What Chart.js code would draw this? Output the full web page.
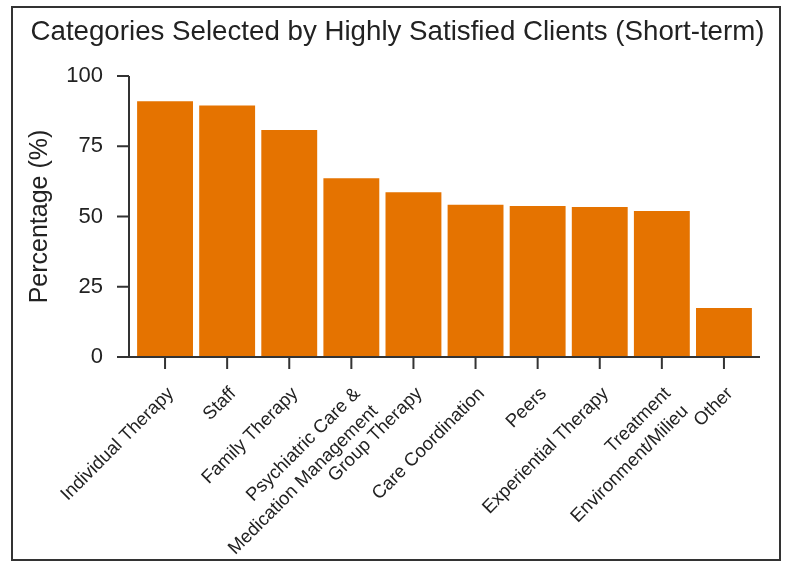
<!DOCTYPE html>
<html>
<head>
<meta charset="utf-8">
<script src="https://cdn.jsdelivr.net/npm/chart.js@4"></script>
<style>
  html, body { margin: 0; padding: 0; background: #fff; overflow: hidden; }
  #wrap { position: relative; width: 785px; height: 561px; }
</style>
</head>
<body>
<div id="wrap"><canvas id="chart"></canvas></div>
<script>
// DATA

const categories = [
    'Individual Therapy',
    'Staff',
    'Family Therapy',
    ['Psychiatric Care &', 'Medication Management'],
    'Group Therapy',
    'Care Coordination',
    'Peers',
    'Experiential Therapy',
    ['Treatment', 'Environment/Milieu'],
    'Other'
];
const percentages = [91.0, 89.5, 80.8, 63.6, 58.6, 54.2, 53.7, 53.4, 52.0, 17.4];
const yTicks = [0, 25, 50, 75, 100];

const FONT = "'Liberation Sans', Arial, Helvetica, sans-serif";
const INK = '#222';
const BAR = '#E57300';

// R-style axes: detached y axis, outward ticks, plus outer frame
const axesPlugin = {
    id: 'rAxes',
    beforeDraw(chart) {
        const ctx = chart.ctx;
        ctx.save();
        ctx.strokeStyle = '#333';
        ctx.lineWidth = 2;
        ctx.strokeRect(12, 7, chart.width - 17, chart.height - 8);
        ctx.restore();
    },
    afterDraw(chart) {
        const { ctx, chartArea, scales: { x, y } } = chart;
        const axisX = chartArea.left - 5;
        const tickLen = 12;
        const y0 = y.getPixelForValue(0);
        ctx.save();
        ctx.strokeStyle = '#333';
        ctx.lineWidth = 2;
        ctx.beginPath();
        ctx.moveTo(axisX, y.getPixelForValue(yTicks[yTicks.length - 1]));
        ctx.lineTo(axisX, y0);
        yTicks.forEach(v => {
            const py = y.getPixelForValue(v);
            ctx.moveTo(axisX - tickLen, py);
            ctx.lineTo(axisX, py);
        });
        ctx.moveTo(axisX - tickLen, y0);
        ctx.lineTo(chartArea.right + 5, y0);
        categories.forEach((c, i) => {
            const px = x.getPixelForValue(i);
            ctx.moveTo(px, y0);
            ctx.lineTo(px, y0 + tickLen);
        });
        ctx.stroke();
        ctx.restore();
    }
};

new Chart(document.getElementById('chart').getContext('2d'), {
    type: 'bar',
    data: {
        labels: categories,
        datasets: [{
            data: percentages,
            backgroundColor: BAR,
            borderWidth: 0,
            categoryPercentage: 0.9,
            barPercentage: 1.0
        }]
    },
    options: {
        responsive: true,
        maintainAspectRatio: false,
        animation: false,
        events: [],
        layout: { padding: { left: 20, right: 10, top: 0, bottom: 0 } },
        plugins: {
            legend: { display: false },
            tooltip: { enabled: false },
            title: {
                display: true,
                text: 'Categories Selected by Highly Satisfied Clients (Short-term)',
                color: INK,
                font: { family: FONT, size: 27.7, weight: 'normal', lineHeight: 1.2 },
                padding: { top: 15.5, bottom: 27.3 }
            }
        },
        scales: {
            x: {
                grid: { display: false, drawTicks: false },
                border: { display: false },
                ticks: {
                    color: INK,
                    font: { family: FONT, size: 18.5, lineHeight: 1.35 },
                    minRotation: 45,
                    maxRotation: 45,
                    autoSkip: false,
                    padding: 25,
                    labelOffset: 6
                },
                afterFit: s => { s.height = 204; }
            },
            y: {
                min: 0,
                max: 100,
                grid: { display: false, drawTicks: false },
                border: { display: false },
                ticks: {
                    color: INK,
                    font: { family: FONT, size: 22 },
                    padding: 31
                },
                afterBuildTicks: s => { s.ticks = yTicks.map(v => ({ value: v })); },
                title: {
                    display: true,
                    text: 'Percentage (%)',
                    color: INK,
                    font: { family: FONT, size: 25 },
                    padding: { top: 5, bottom: 0 }
                },
                afterFit: s => { s.width = 114; }
            },
            // empty right gutter so the plot ends where the reference does
            yRight: {
                position: 'right',
                display: true,
                grid: { display: false, drawTicks: false },
                border: { display: false },
                ticks: { display: false },
                afterFit: s => { s.width = 20; }
            }
        }
    },
    plugins: [axesPlugin]
});
</script>
</body>
</html>
